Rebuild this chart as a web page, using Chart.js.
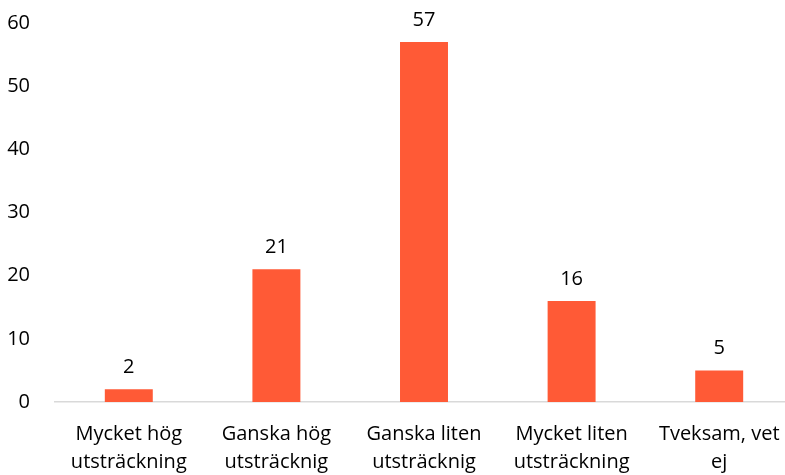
<!DOCTYPE html>
<html>
<head>
<meta charset="utf-8">
<script src="https://cdn.jsdelivr.net/npm/chart.js@4"></script>
<style>
  html, body { margin: 0; padding: 0; background: #fff; overflow: hidden; }
  #wrap { width: 793px; height: 475px; }
</style>
</head>
<body>
<div id="wrap"><canvas id="chart"></canvas></div>
<script>
const categories = [
  ['Mycket hög', 'utsträckning'],
  ['Ganska hög', 'utsträcknig'],
  ['Ganska liten', 'utsträcknig'],
  ['Mycket liten', 'utsträckning'],
  ['Tveksam, vet', 'ej']
];
const values = [2, 21, 57, 16, 5];
const yTicks = [0, 10, 20, 30, 40, 50, 60];

const FONT = '"Open Sans", "Noto Sans", sans-serif';

// value labels above each bar
const barLabels = {
  id: 'barLabels',
  afterDatasetsDraw(chart) {
    const c = chart.ctx;
    const meta = chart.getDatasetMeta(0);
    c.save();
    c.font = '20px ' + FONT;
    c.fillStyle = '#000';
    c.textAlign = 'center';
    c.textBaseline = 'middle';
    meta.data.forEach((bar, i) => {
      c.fillText(String(values[i]), bar.x, bar.y - 22);
    });
    c.restore();
  }
};

// don't let tick labels push the plot area around
function noPad(axis) {
  axis.paddingTop = 0;
  axis.paddingBottom = 0;
  axis.paddingLeft = 0;
  axis.paddingRight = 0;
}

new Chart(document.getElementById('chart'), {
  type: 'bar',
  data: {
    labels: categories,
    datasets: [{
      data: values,
      backgroundColor: '#FF5A36',
      barPercentage: 1,
      categoryPercentage: 0.325
    }]
  },
  options: {
    responsive: true,
    maintainAspectRatio: false,
    animation: false,
    layout: { padding: { top: 23, right: 0, bottom: 0, left: 0 } },
    plugins: {
      legend: { display: false },
      tooltip: { enabled: false }
    },
    scales: {
      x: {
        grid: { display: false, drawTicks: false },
        border: { display: true, color: '#D9D9D9', width: 1.5 },
        ticks: {
          color: '#000',
          font: { family: FONT, size: 20, lineHeight: 1.4 },
          padding: 18,
          maxRotation: 0,
          autoSkip: false
        },
        afterFit(axis) { axis.height = 73; noPad(axis); }
      },
      y: {
        min: 0,
        max: 60,
        grid: { display: false, drawTicks: false },
        border: { display: false },
        afterBuildTicks(axis) { axis.ticks = yTicks.map(v => ({ value: v })); },
        ticks: {
          color: '#000',
          font: { family: FONT, size: 20 },
          padding: 25
        },
        afterFit(axis) { axis.width = 55; noPad(axis); }
      }
    }
  },
  plugins: [barLabels]
});
</script>
</body>
</html>
